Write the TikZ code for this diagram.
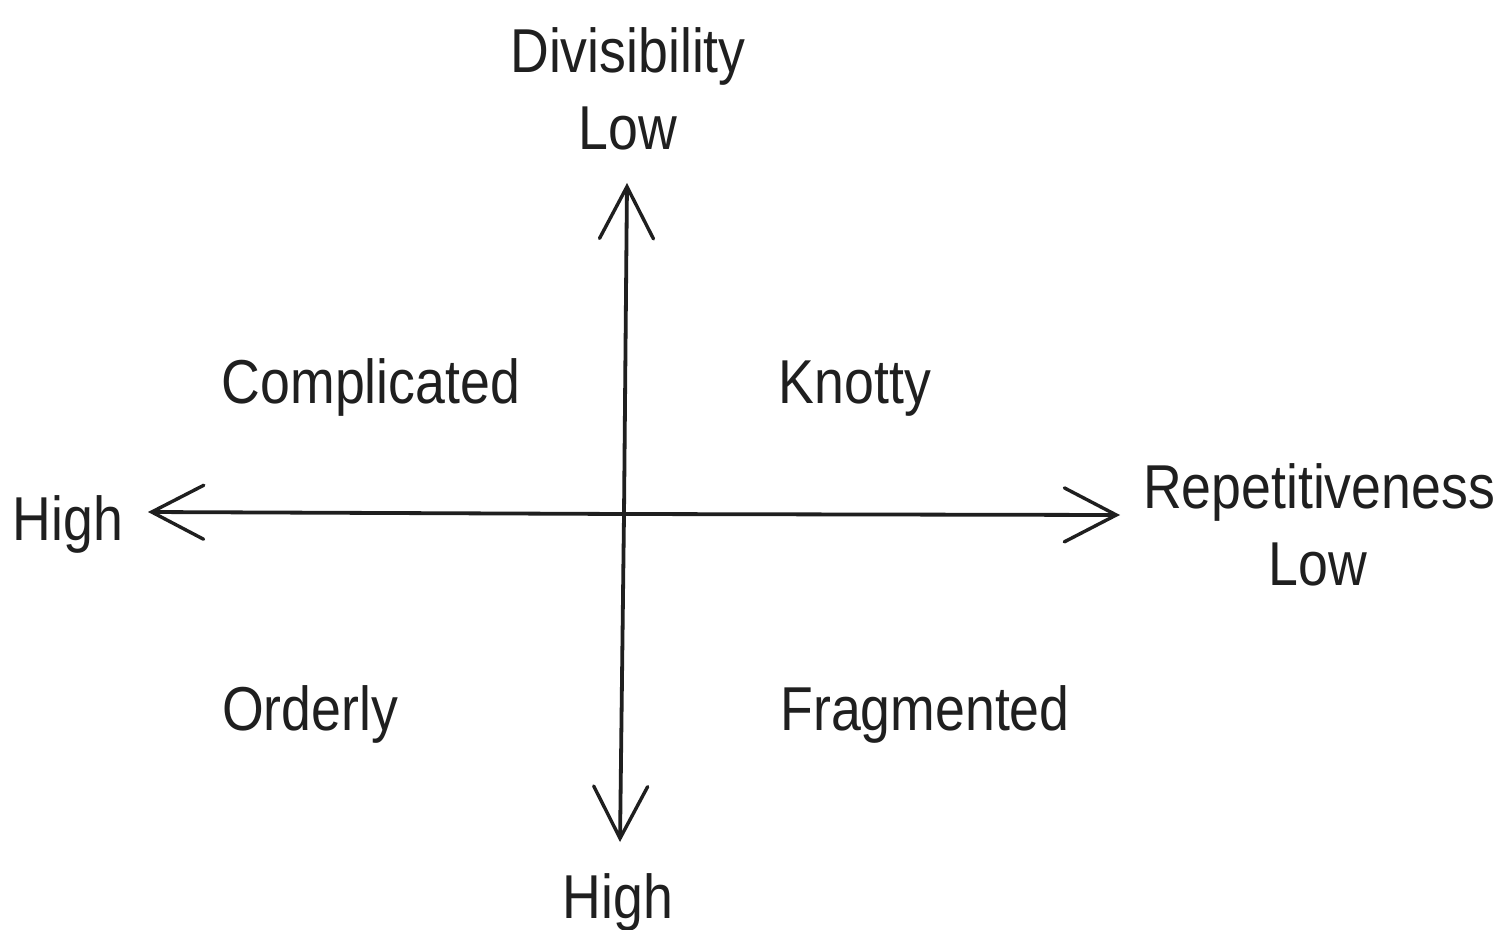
\documentclass[tikz,border=0pt]{standalone}
\usepackage{fontspec}
\setmainfont{Liberation Sans}
\usetikzlibrary{arrows.meta}
\begin{document}
\begin{tikzpicture}[x=0.5pt,y=-0.5pt,
  lbl/.style={font=\fontsize{31}{36}\selectfont, inner sep=0pt, anchor=base, xscale=0.865, transform shape, text=black!88},
  axis/.style={line width=1.9pt, draw=black!88, -{Straight Barb[length=26pt,width=27pt,line width=1.7pt,line cap=round]}}]
\useasboundingbox[fill=white] (0,0) rectangle (1503,930);
\coordinate (o) at (624,514);
\coordinate (top) at (627,183);
\coordinate (bot) at (620,842);
\coordinate (left) at (148,512);
\coordinate (right) at (1120,515);
\draw[axis] (o) -- (top);
\draw[axis] (o) -- (bot);
\draw[axis] (o) -- (left);
\draw[axis] (o) -- (right);
\node[lbl] (div) at (628,73) {Divisibility};
\node[lbl] (divlow) at (628,150) {Low};
\node[lbl] (divhigh) at (618,918) {High};
\node[lbl] (rep) at (1319,508) {Repetitiveness};
\node[lbl] (replow) at (1318,585) {Low};
\node[lbl] (rephigh) at (68,540) {High};
\node[lbl] (comp) at (371,403) {Complicated};
\node[lbl] (knot) at (855,403) {Knotty};
\node[lbl] (ord) at (310,730) {Orderly};
\node[lbl] (frag) at (925,730) {Fragmented};
\end{tikzpicture}
\end{document}
